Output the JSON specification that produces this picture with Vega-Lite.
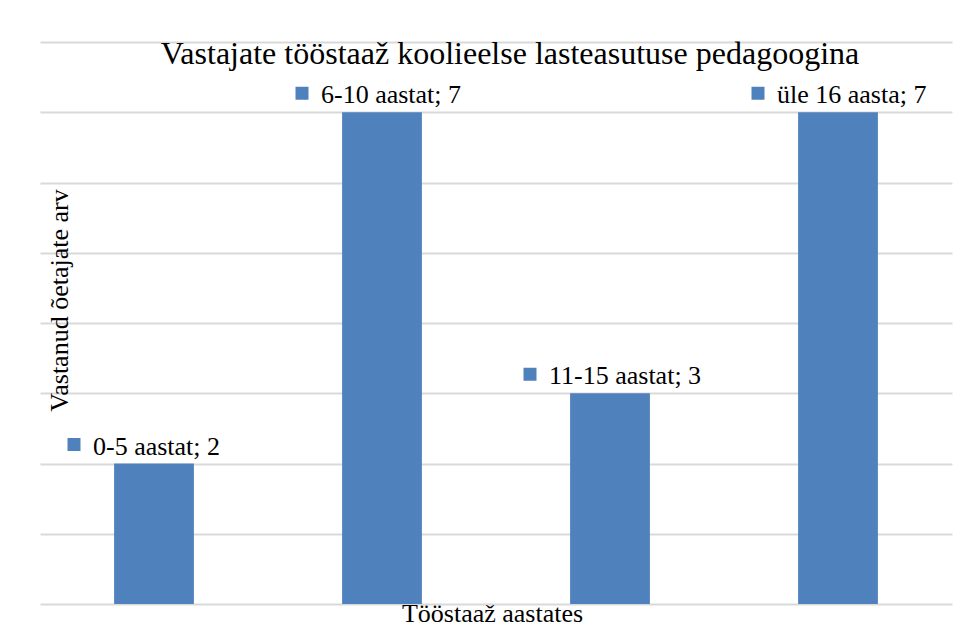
{
  "$schema": "https://vega.github.io/schema/vega-lite/v6.json",
  "autosize": "none",
  "width": 912,
  "height": 562,
  "padding": {"left": 40, "top": 42, "right": 13, "bottom": 22},
  "background": "white",
  "config": {
    "font": "Liberation Serif",
    "text": {"font": "Liberation Serif"},
    "mark": {"font": "Liberation Serif"},
    "view": {"stroke": null}
  },
  "title": {
    "text": "Vastajate tööstaaž koolieelse lasteasutuse pedagoogina",
    "font": "Liberation Serif",
    "fontSize": 32,
    "fontWeight": "normal",
    "color": "#000000",
    "anchor": "middle",
    "baseline": "alphabetic",
    "offset": -54,
    "dx": 14
  },
  "data": {
    "values": [
      {"kategooria": "0-5 aastat", "vastajaid": 2, "silt": "0-5 aastat; 2"},
      {"kategooria": "6-10 aastat", "vastajaid": 7, "silt": "6-10 aastat; 7"},
      {"kategooria": "11-15 aastat", "vastajaid": 3, "silt": "11-15 aastat; 3"},
      {"kategooria": "üle 16 aasta", "vastajaid": 7, "silt": "üle 16 aasta; 7"}
    ]
  },
  "encoding": {
    "x": {
      "field": "kategooria",
      "type": "nominal",
      "sort": null,
      "scale": {"paddingInner": 0.65, "paddingOuter": 0.325},
      "axis": {
        "title": "Tööstaaž aastates",
        "labels": false,
        "ticks": false,
        "domain": false,
        "grid": false,
        "titleFont": "Liberation Serif",
        "titleFontSize": 26,
        "titleFontWeight": "normal",
        "titleColor": "#000000",
        "titleX": 452,
        "titleY": 17,
        "titleBaseline": "alphabetic",
        "titleAlign": "center"
      }
    },
    "y": {
      "field": "vastajaid",
      "type": "quantitative",
      "scale": {"domain": [0, 8], "nice": false},
      "axis": {
        "title": "Vastanud õetajate arv",
        "values": [0, 1, 2, 3, 4, 5, 6, 7, 8],
        "labels": false,
        "ticks": false,
        "domain": false,
        "grid": true,
        "gridColor": "#d9d9d9",
        "gridWidth": 2,
        "titleFont": "Liberation Serif",
        "titleFontSize": 26,
        "titleFontWeight": "normal",
        "titleColor": "#000000",
        "titleAngle": -90,
        "titleX": 27,
        "titleY": 258,
        "titleBaseline": "alphabetic",
        "titleAlign": "center"
      }
    }
  },
  "layer": [
    {
      "mark": {"type": "bar", "color": "#4f81bd"}
    },
    {
      "mark": {
        "type": "point",
        "shape": "square",
        "filled": true,
        "opacity": 1,
        "size": 169,
        "color": "#4f81bd",
        "strokeWidth": 0,
        "xOffset": -80,
        "yOffset": -19
      }
    },
    {
      "mark": {
        "type": "text",
        "align": "left",
        "baseline": "alphabetic",
        "dx": -61,
        "dy": -9,
        "font": "Liberation Serif",
        "fontSize": 26,
        "color": "#000000"
      },
      "encoding": {"text": {"field": "silt"}}
    }
  ]
}
